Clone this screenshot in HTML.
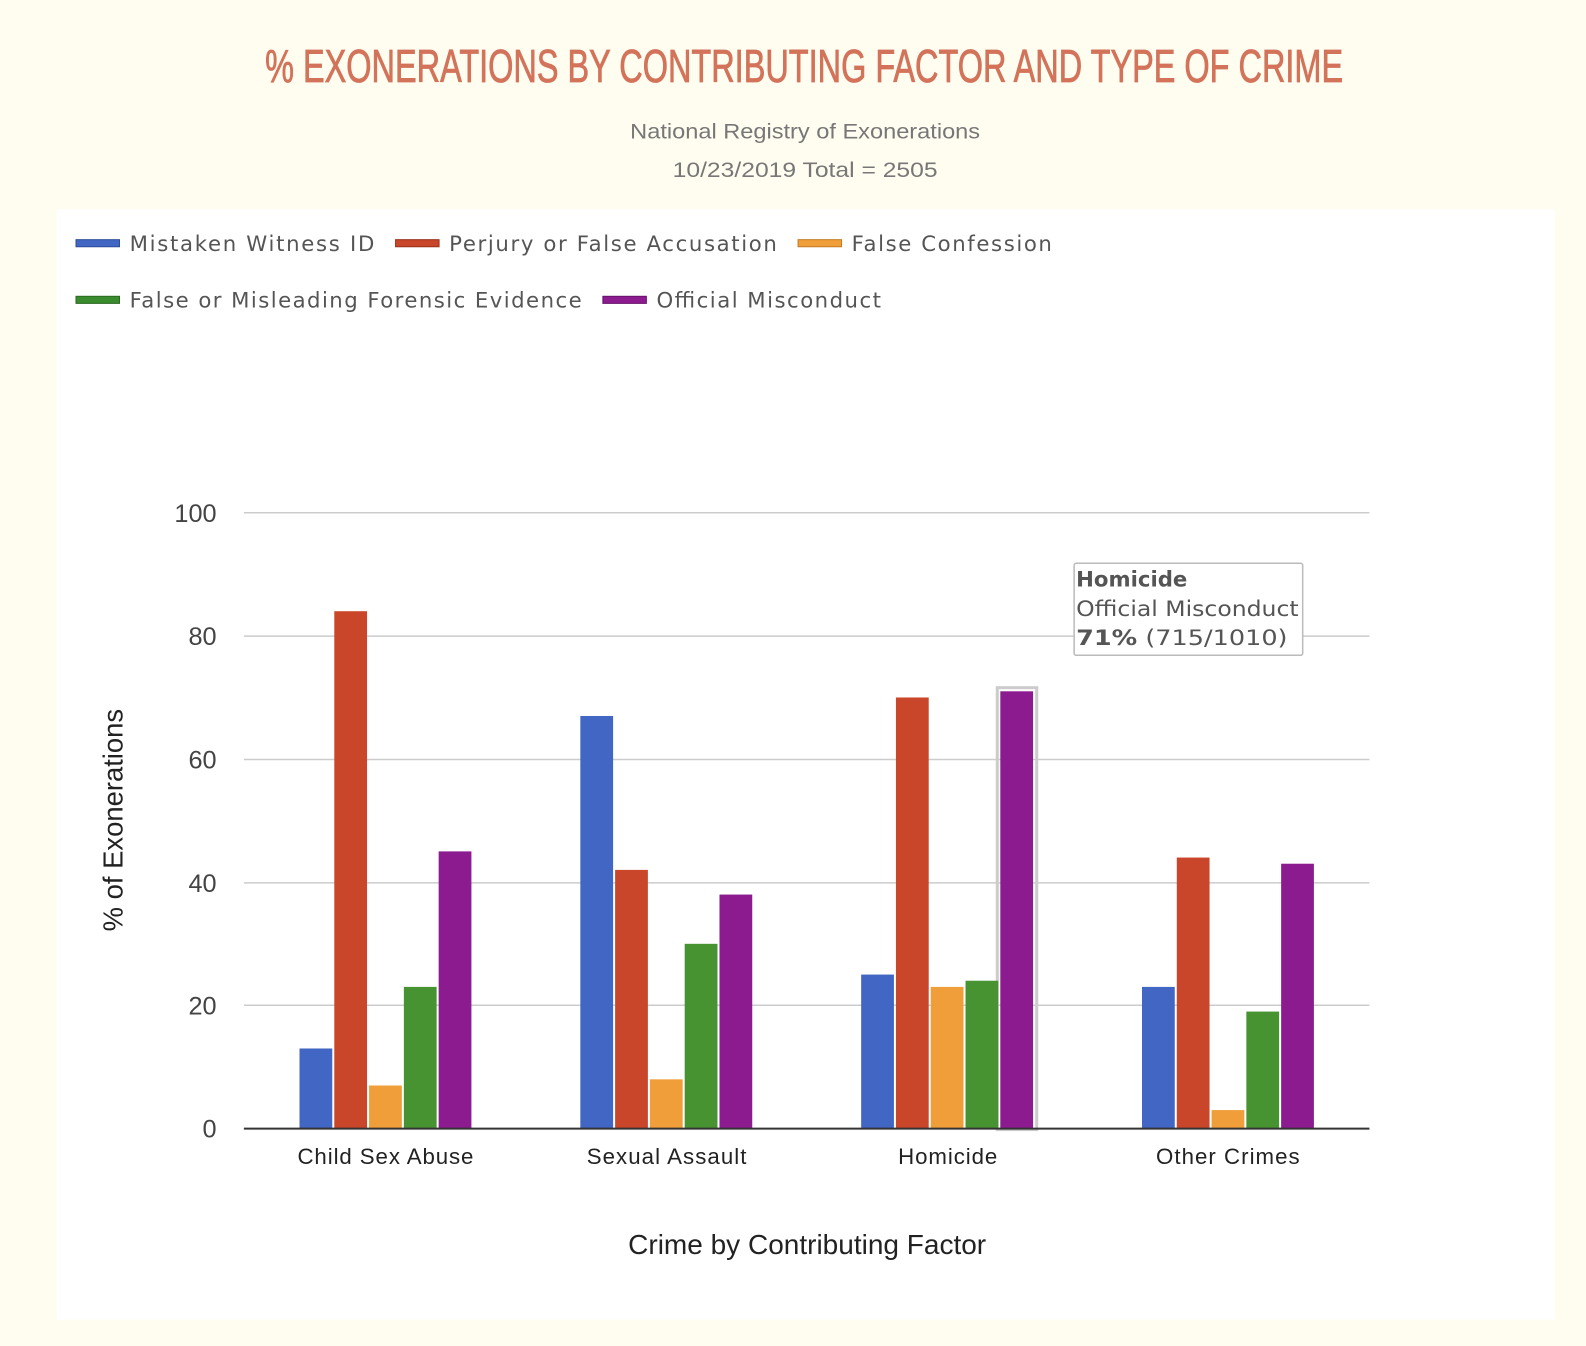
<!DOCTYPE html>
<html><head><meta charset="utf-8"><style>
html,body{margin:0;padding:0;background:#fffdf0;}
svg{display:block;}
</style></head><body>
<svg width="1586" height="1346" viewBox="0 0 1568 1331" xmlns="http://www.w3.org/2000/svg">
<rect x="0" y="0" width="1568" height="1331" fill="#fffdf0"/>
<text x="795" y="81" text-anchor="middle" font-family="Liberation Sans Narrow, Liberation Sans, sans-serif" font-size="46" fill="#d2735a" stroke="#d2735a" stroke-width="0.8" textLength="1066" lengthAdjust="spacingAndGlyphs">% EXONERATIONS BY CONTRIBUTING FACTOR AND TYPE OF CRIME</text>
<text x="796" y="137" text-anchor="middle" font-family="Liberation Sans Narrow, Liberation Sans, sans-serif" font-size="21" fill="#777" textLength="346" lengthAdjust="spacingAndGlyphs">National Registry of Exonerations</text>
<text x="796" y="175" text-anchor="middle" font-family="Liberation Sans Narrow, Liberation Sans, sans-serif" font-size="21" fill="#777" textLength="262" lengthAdjust="spacingAndGlyphs">10/23/2019 Total = 2505</text>
<rect x="56" y="207" width="1481" height="1098" fill="#fff"/>
<g font-family="DejaVu Sans, sans-serif" font-size="21" fill="#555" lengthAdjust="spacingAndGlyphs">
<rect x="75" y="237" width="43" height="7" fill="#4166c4" stroke="#2e4c9a" stroke-width="1"/><text x="128" y="248" textLength="242">Mistaken Witness ID</text>
<rect x="391" y="237" width="43" height="7" fill="#c9462a" stroke="#9a3019" stroke-width="1"/><text x="444" y="248" textLength="324">Perjury or False Accusation</text>
<rect x="789" y="237" width="43" height="7" fill="#f09e3a" stroke="#c07a20" stroke-width="1"/><text x="842" y="248" textLength="198">False Confession</text>
<rect x="75" y="293" width="43" height="7" fill="#3a8a2e" stroke="#2a6a20" stroke-width="1"/><text x="128" y="304" textLength="447">False or Misleading Forensic Evidence</text>
<rect x="596" y="293" width="43" height="7" fill="#8c1b8f" stroke="#6a106c" stroke-width="1"/><text x="649" y="304" textLength="222">Official Misconduct</text>
</g>
<g stroke="#ccc" stroke-width="1.5">
<line x1="241" x2="1354" y1="507" y2="507"/><line x1="241" x2="1354" y1="629" y2="629"/>
<line x1="241" x2="1354" y1="751" y2="751"/><line x1="241" x2="1354" y1="873" y2="873"/>
<line x1="241" x2="1354" y1="994" y2="994"/>
</g>
<g font-family="Liberation Sans, Arial, sans-serif" font-size="25" fill="#444" text-anchor="end">
<text x="214" y="516">100</text><text x="214" y="638">80</text><text x="214" y="760">60</text>
<text x="214" y="882">40</text><text x="214" y="1003">20</text><text x="214" y="1125">0</text>
</g>
<rect x="986" y="680" width="39" height="437" fill="none" stroke="#ccc" stroke-width="3"/>
<g>
<rect x="296" y="1036.8" width="32.4" height="79.2" fill="#4166c4"/>
<rect x="330.4" y="604.4" width="32.4" height="511.6" fill="#c9462a"/>
<rect x="364.8" y="1073.4" width="32.4" height="42.6" fill="#f09e3a"/>
<rect x="399.2" y="975.9" width="32.4" height="140.1" fill="#479331"/>
<rect x="433.6" y="841.9" width="32.4" height="274.1" fill="#8c1b8f"/>

<rect x="573.7" y="708" width="32.4" height="408" fill="#4166c4"/>
<rect x="608.1" y="860.2" width="32.4" height="255.8" fill="#c9462a"/>
<rect x="642.5" y="1067.3" width="32.4" height="48.7" fill="#f09e3a"/>
<rect x="676.9" y="933.3" width="32.4" height="182.7" fill="#479331"/>
<rect x="711.3" y="884.6" width="32.4" height="231.4" fill="#8c1b8f"/>

<rect x="851.4" y="963.7" width="32.4" height="152.3" fill="#4166c4"/>
<rect x="885.8" y="689.7" width="32.4" height="426.3" fill="#c9462a"/>
<rect x="920.2" y="975.9" width="32.4" height="140.1" fill="#f09e3a"/>
<rect x="954.6" y="969.8" width="32.4" height="146.2" fill="#479331"/>
<rect x="989" y="683.6" width="32.4" height="432.4" fill="#8c1b8f"/>

<rect x="1129.1" y="975.9" width="32.4" height="140.1" fill="#4166c4"/>
<rect x="1163.5" y="848" width="32.4" height="268" fill="#c9462a"/>
<rect x="1197.9" y="1097.7" width="32.4" height="18.3" fill="#f09e3a"/>
<rect x="1232.3" y="1000.3" width="32.4" height="115.7" fill="#479331"/>
<rect x="1266.7" y="854.1" width="32.4" height="261.9" fill="#8c1b8f"/>
</g>
<line x1="241" x2="1354" y1="1116" y2="1116" stroke="#333" stroke-width="2"/>
<g font-family="Liberation Sans, Arial, sans-serif" font-size="22" fill="#222" text-anchor="middle" lengthAdjust="spacingAndGlyphs">
<text x="381" y="1151" textLength="174">Child Sex Abuse</text><text x="659" y="1151" textLength="158">Sexual Assault</text>
<text x="937" y="1151" textLength="98">Homicide</text><text x="1214" y="1151" textLength="142">Other Crimes</text>
</g>
<text x="798" y="1240" text-anchor="middle" font-family="Liberation Sans, Arial, sans-serif" font-size="27" fill="#222" textLength="354" lengthAdjust="spacingAndGlyphs">Crime by Contributing Factor</text>
<text transform="translate(121,811) rotate(-90)" text-anchor="middle" font-family="Liberation Sans, Arial, sans-serif" font-size="27" fill="#222" textLength="220" lengthAdjust="spacingAndGlyphs">% of Exonerations</text>
<rect x="1062" y="557" width="226" height="91" fill="#fff" stroke="#bbb" stroke-width="1.5" rx="2"/>
<g font-family="DejaVu Sans, sans-serif" font-size="21" fill="#555">
<text x="1064" y="580" font-weight="bold">Homicide</text>
<text x="1064" y="609" textLength="220" lengthAdjust="spacingAndGlyphs">Official Misconduct</text>
<text x="1064" y="638" textLength="209" lengthAdjust="spacingAndGlyphs"><tspan font-weight="bold">71%</tspan> (715/1010)</text>
</g>
</svg>
</body></html>
